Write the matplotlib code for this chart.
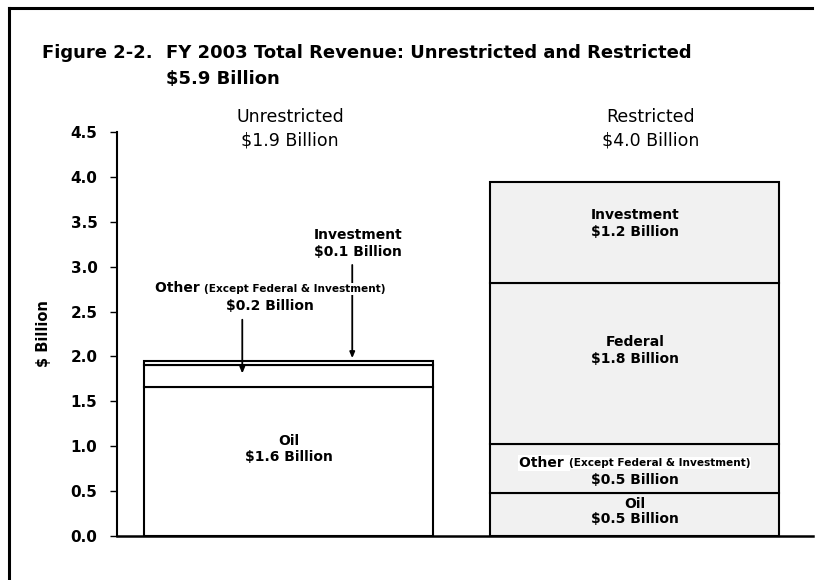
import matplotlib
matplotlib.use('Agg')
import matplotlib.pyplot as plt
from matplotlib.lines import Line2D
from matplotlib.transforms import offset_copy

plt.rcParams['font.family'] = ['DejaVu Sans']

# data ($ billion)
segments = ['Oil', 'Other', 'Federal', 'Investment']
unrestricted = [1.66, 0.24, 0.0, 0.05]
restricted = [0.48, 0.54, 1.80, 1.12]
groups = ['Unrestricted', 'Restricted']
group_totals = ['$1.9 Billion', '$4.0 Billion']
unres_labels = ['$1.6 Billion', '$0.2 Billion', '', '$0.1 Billion']
res_labels = ['$0.5 Billion', '$0.5 Billion', '$1.8 Billion', '$1.2 Billion']
yticks = [0.0, 0.5, 1.0, 1.5, 2.0, 2.5, 3.0, 3.5, 4.0, 4.5]

W, H = 818, 580
fig = plt.figure(figsize=(W / 100, H / 100), dpi=100)
fig.patch.set_facecolor('white')

# axes box in pixels: x 117..813, y 132..536
ax = fig.add_axes([117 / W, (H - 536) / H, 696 / W, 404 / H])
ax.set_xlim(0, 1)
ax.set_ylim(0, 4.5)
ax.patch.set_alpha(0)

xpos = [0.247, 0.744]
bw = 0.415
fills = ['white', '#f1f1f1']

for i, vals in enumerate([unrestricted, restricted]):
    bottom = 0
    for v in vals:
        if v > 0:
            ax.bar(xpos[i], v, bw, bottom=bottom, color=fills[i],
                   edgecolor='black', linewidth=1.5, zorder=2)
        bottom += v

for s in ['top', 'right']:
    ax.spines[s].set_visible(False)
ax.spines['left'].set_linewidth(1.5)
ax.spines['bottom'].set_linewidth(1.8)
ax.set_xticks([])
ax.set_yticks(yticks)
ax.set_yticklabels(['%.1f' % t for t in yticks], fontsize=11, fontweight='bold')
ax.tick_params(axis='y', direction='out', length=5, width=1, pad=9)
ax.set_ylabel('$ Billion', fontsize=10.5, fontweight='bold', labelpad=14)


def mixed_label(xc, y, big, small, zorder=4):
    # "Other" in normal size followed by the smaller parenthetical, centred as one line
    t1 = ax.text(xc, y, big, fontsize=10, fontweight='bold', ha='left',
                 va='center', zorder=zorder)
    t2 = ax.text(xc, y, small, fontsize=7.6, fontweight='bold', ha='left',
                 va='center', zorder=zorder)
    fig.canvas.draw()
    r = fig.canvas.get_renderer()
    w1 = t1.get_window_extent(r).width
    w2 = t2.get_window_extent(r).width
    tot = w1 + w2
    t1.set_transform(offset_copy(ax.transData, fig, x=-tot / 2, y=0, units='dots'))
    t2.set_transform(offset_copy(ax.transData, fig, x=-tot / 2 + w1, y=-0.5, units='dots'))
    for t in (t1, t2):
        t.set_bbox(dict(facecolor='white', edgecolor='none', pad=0.6))


seg_kw = dict(fontsize=10, fontweight='bold', ha='center', va='center', linespacing=1.25, zorder=4)

# restricted bar labels inside segments
bottoms = [sum(restricted[:k]) for k in range(4)]
offs = [0.03, 0.0, 0.15, 0.10]
for k, seg in enumerate(segments):
    mid = bottoms[k] + restricted[k] / 2 + offs[k]
    if seg == 'Other':
        mixed_label(xpos[1], mid + 0.065, 'Other ', '(Except Federal & Investment)')
        ax.text(xpos[1], mid - 0.125, res_labels[k], fontsize=10, fontweight='bold',
                ha='center', va='center', zorder=4)
    elif seg == 'Oil':
        ax.text(xpos[1], mid, seg + '\n' + res_labels[k], fontsize=10, fontweight='bold',
                ha='center', va='center', linespacing=1.1, zorder=4)
    else:
        ax.text(xpos[1], mid, seg + '\n' + res_labels[k], **seg_kw)

# unrestricted oil label inside the bar
ax.text(xpos[0], unrestricted[0] / 2 + 0.14, 'Oil\n' + unres_labels[0],
        fontsize=10, fontweight='bold', ha='center', va='center', linespacing=1.25, zorder=4)

# callouts for the thin unrestricted segments
top_u = sum(unrestricted)
ax.text(0.346, 3.26, 'Investment\n' + unres_labels[3], fontsize=10, fontweight='bold',
        ha='center', va='center', linespacing=1.3, zorder=4)
ax.annotate('', xy=(0.338, top_u), xytext=(0.338, 3.05),
            arrowprops=dict(arrowstyle='-|>,head_length=0.35,head_width=0.15',
                            color='black', lw=1.3), zorder=3)
mixed_label(0.22, 2.76, 'Other ', '(Except Federal & Investment)', zorder=5)
ax.text(0.22, 2.56, unres_labels[1], fontsize=10, fontweight='bold',
        ha='center', va='center', zorder=5)
ax.annotate('', xy=(0.18, unrestricted[0] + unrestricted[1] / 2), xytext=(0.18, 2.44),
            arrowprops=dict(arrowstyle='-|>,head_length=0.35,head_width=0.15',
                            color='black', lw=1.3), zorder=3)

# column headers
hx = [290, 651]
for i in range(2):
    fig.text(hx[i] / W, 1 - 117 / H, groups[i], fontsize=12.5, ha='center', va='center')
    fig.text(hx[i] / W, 1 - 140 / H, group_totals[i], fontsize=12.5, ha='center', va='center')

# title
fig.text(42 / W, 1 - 53 / H, 'Figure 2-2.', fontsize=13, fontweight='bold', va='center')
fig.text(166 / W, 1 - 53 / H, 'FY 2003 Total Revenue: Unrestricted and Restricted',
         fontsize=13, fontweight='bold', va='center')
fig.text(166 / W, 1 - 79 / H, '$5.9 Billion', fontsize=13, fontweight='bold', va='center')

# scanned page frame
fig.add_artist(Line2D([9 / W, 9 / W], [0, 1 - 8 / H], color='black', lw=2.2))
fig.add_artist(Line2D([9 / W, 812 / W], [1 - 8 / H, 1 - 8 / H], color='black', lw=2.2))

fig.savefig('out.png', dpi=100)
